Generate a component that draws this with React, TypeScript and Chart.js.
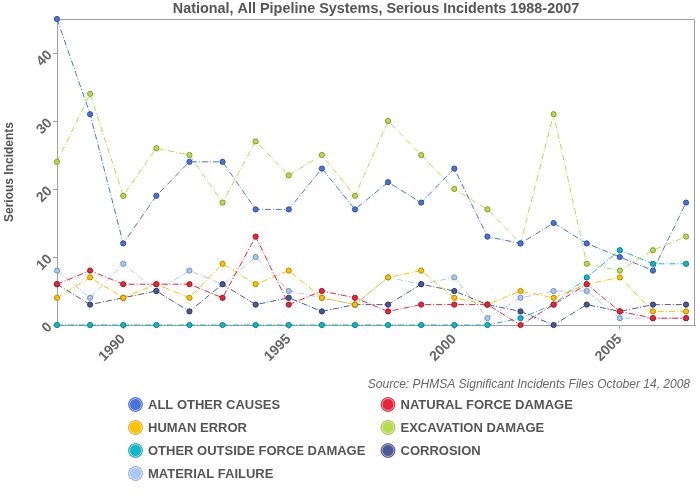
import { useEffect, useRef } from "react";
import { Chart, registerables } from "chart.js";
Chart.register(...registerables);

const years = [1988, 1989, 1990, 1991, 1992, 1993, 1994, 1995, 1996, 1997, 1998, 1999, 2000, 2001, 2002, 2003, 2004, 2005, 2006, 2007];
const allOtherCauses = [45, 31, 12, 19, 24, 24, 17, 17, 23, 17, 21, 18, 23, 13, 12, 15, 12, 10, 8, 18];
const naturalForceDamage = [6, 8, 6, 6, 6, 4, 13, 3, 5, 4, 2, 3, 3, 3, 0, 3, 6, 2, 1, 1];
const humanError = [4, 7, 4, 6, 4, 9, 6, 8, 4, 3, 7, 8, 4, 3, 5, 4, 6, 7, 2, 2];
const excavationDamage = [24, 34, 19, 26, 25, 18, 27, 22, 25, 19, 30, 25, 20, 17, 12, 31, 9, 8, 11, 13];
const otherOutsideForceDamage = [0, 0, 0, 0, 0, 0, 0, 0, 0, 0, 0, 0, 0, 0, 1, 3, 7, 11, 9, 9];
const corrosion = [6, 3, 4, 5, 2, 6, 3, 4, 2, 3, 3, 6, 5, 3, 2, 0, 3, 2, 3, 3];
const materialFailure = [8, 4, 9, 5, 8, 6, 10, 5, 4, 3, 7, 6, 7, 1, 4, 5, 5, 1, 1, 1];

const xTickValues = [1990, 1995, 2000, 2005];
const yTickValues = [0, 10, 20, 30, 40];

const seriesNames = ["ALL OTHER CAUSES", "NATURAL FORCE DAMAGE", "HUMAN ERROR", "EXCAVATION DAMAGE", "OTHER OUTSIDE FORCE DAMAGE", "CORROSION", "MATERIAL FAILURE"];
const seriesValues = [allOtherCauses, naturalForceDamage, humanError, excavationDamage, otherOutsideForceDamage, corrosion, materialFailure];
const seriesColors = ["#4a72d8", "#e8263a", "#ffc000", "#b4dc4c", "#12b8c8", "#4a5898", "#a8c8f0"];
const seriesBorders = ["#2f4f9e", "#a81424", "#b88a00", "#7f9f2a", "#0a7f8c", "#2c376a", "#7090c0"];

const titleText = "National, All Pipeline Systems, Serious Incidents 1988-2007";
const sourceText = "Source: PHMSA Significant Incidents Files October 14, 2008";

const decorPlugin = {
  id: "decor",
  beforeDatasetsDraw(chart: any) {
    const { ctx, chartArea } = chart;
    const { left, right, top, bottom } = chartArea;
    ctx.save();
    ctx.strokeStyle = "#a0a0a0";
    ctx.lineWidth = 1;
    ctx.beginPath();
    ctx.moveTo(left, top + 0.5);
    ctx.lineTo(right - 0.5, top + 0.5);
    ctx.lineTo(right - 0.5, bottom);
    ctx.stroke();
    ctx.restore();
  },
  afterDraw(chart: any) {
    const { ctx, chartArea } = chart;
    const { left, right } = chartArea;
    ctx.save();
    // title
    ctx.fillStyle = "#555555";
    ctx.font = "bold 14.4px 'Liberation Sans'";
    ctx.textAlign = "center";
    ctx.textBaseline = "middle";
    ctx.fillText(titleText, (left + right) / 2, 9);
    // source
    ctx.font = "italic 12px 'Liberation Sans'";
    ctx.fillStyle = "#666666";
    ctx.textAlign = "right";
    ctx.fillText(sourceText, 690, 385);
    // legend
    const colX = [135.5, 388];
    const rowY = [404.5, 427.5, 450.5, 473.5];
    chart.data.datasets.forEach((ds: any, i: number) => {
      const cx = colX[i % 2];
      const cy = rowY[Math.floor(i / 2)];
      ctx.beginPath();
      ctx.arc(cx, cy, 7, 0, Math.PI * 2);
      ctx.fillStyle = seriesColors[i];
      ctx.fill();
      ctx.strokeStyle = "rgba(255,255,255,0.6)";
      ctx.lineWidth = 1;
      ctx.beginPath();
      ctx.arc(cx, cy, 6, 0, Math.PI * 2);
      ctx.stroke();
      ctx.strokeStyle = seriesBorders[i];
      ctx.globalAlpha = 0.6;
      ctx.beginPath();
      ctx.arc(cx, cy, 7, 0, Math.PI * 2);
      ctx.stroke();
      ctx.globalAlpha = 1;
      ctx.fillStyle = "#555555";
      ctx.font = "bold 13px 'Liberation Sans'";
      ctx.textAlign = "left";
      ctx.textBaseline = "middle";
      ctx.fillText(ds.label, cx + 12.5, cy + 0.5);
    });
    ctx.restore();
  },
};

export default function App() {
  const ref = useRef<HTMLCanvasElement>(null);
  useEffect(() => {
    document.body.style.margin = "0";
    Chart.defaults.font.family = "'Liberation Sans'";
    const chart = new Chart(ref.current!, {
      type: "line",
      data: {
        datasets: seriesNames.map((name, i) => ({
          label: name,
          data: years.map((y, j) => ({ x: y, y: seriesValues[i][j] })),
          borderColor: seriesColors[i],
          backgroundColor: seriesColors[i],
          borderWidth: 1,
          borderDash: [6, 2, 1, 2],
          pointRadius: 2.6,
          pointBorderWidth: 1,
          pointBackgroundColor: seriesColors[i],
          pointBorderColor: seriesBorders[i],
          fill: false,
          tension: 0,
          clip: false,
        })),
      },
      options: {
        animation: false,
        responsive: false,
        devicePixelRatio: 1,
        layout: { padding: { left: 0, top: 19, right: 3, bottom: 0 } },
        plugins: { legend: { display: false }, title: { display: false }, tooltip: { enabled: false } },
        scales: {
          x: {
            type: "linear",
            min: 1988,
            max: 2007.27,
            afterBuildTicks: (s: any) => {
              s.ticks = xTickValues.map((v) => ({ value: v }));
            },
            afterFit: (s: any) => {
              s.height = 175;
            },
            grid: { display: true, drawOnChartArea: false, drawTicks: true, tickLength: 4, color: "#a0a0a0" },
            border: { display: true, color: "#a0a0a0" },
            ticks: {
              minRotation: 45,
              maxRotation: 45,
              padding: 2,
              color: "#666666",
              font: { size: 14, weight: "bold" },
              callback: (v: any) => String(v),
            },
          },
          y: {
            type: "linear",
            min: 0,
            max: 45,
            afterBuildTicks: (s: any) => {
              s.ticks = yTickValues.map((v) => ({ value: v }));
            },
            afterFit: (s: any) => {
              s.width = 57;
            },
            grid: { display: true, drawOnChartArea: false, drawTicks: true, tickLength: 4, color: "#a0a0a0" },
            border: { display: true, color: "#a0a0a0" },
            title: {
              display: true,
              text: "Serious Incidents",
              color: "#555555",
              font: { size: 12, weight: "bold" },
              padding: { top: 2, bottom: 0 },
            },
            ticks: {
              minRotation: 45,
              maxRotation: 45,
              padding: 3,
              color: "#666666",
              font: { size: 14, weight: "bold" },
            },
          },
        },
      },
      plugins: [decorPlugin],
    } as any);
    return () => chart.destroy();
  }, []);
  return (
    <div style={{ width: 700, height: 500 }}>
      <canvas ref={ref} width={700} height={500} style={{ display: "block" }} />
    </div>
  );
}
